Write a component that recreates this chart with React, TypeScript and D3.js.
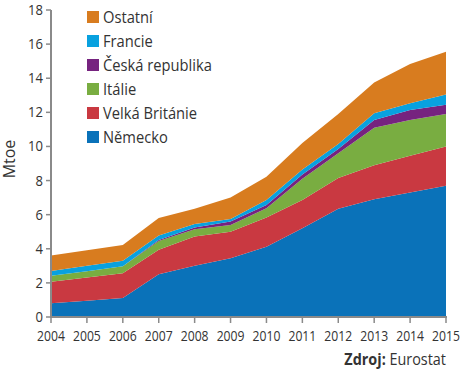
import React from "react";
import * as d3 from "d3";

const years = [2004, 2005, 2006, 2007, 2008, 2009, 2010, 2011, 2012, 2013, 2014, 2015];
const nemecko = [0.8, 0.95, 1.12, 2.5, 3.0, 3.45, 4.12, 5.2, 6.35, 6.9, 7.3, 7.7];
const velkaBritanie = [1.27, 1.37, 1.45, 1.45, 1.72, 1.55, 1.72, 1.66, 1.8, 2.0, 2.15, 2.3];
const italie = [0.35, 0.36, 0.4, 0.5, 0.43, 0.4, 0.53, 1.24, 1.45, 2.2, 2.1, 1.9];
const ceskaRepublika = [0, 0, 0, 0.07, 0.1, 0.2, 0.2, 0.25, 0.25, 0.45, 0.58, 0.55];
const francie = [0.28, 0.32, 0.33, 0.26, 0.2, 0.15, 0.29, 0.3, 0.3, 0.4, 0.4, 0.6];
const ostatni = [0.9, 0.92, 0.92, 1.02, 0.9, 1.25, 1.36, 1.55, 1.75, 1.8, 2.3, 2.5];

const seriesNames = ["Německo", "Velká Británie", "Itálie", "Česká republika", "Francie", "Ostatní"];
const seriesValues = [nemecko, velkaBritanie, italie, ceskaRepublika, francie, ostatni];
const colors = ["#0a72b9", "#c93941", "#79ad41", "#76237f", "#08a1df", "#d87c1f"];
const yTicks = [0, 2, 4, 6, 8, 10, 12, 14, 16, 18];

const FONT = "'Open Sans', sans-serif";

function SText({ x, y, sx = 0.87, children, ...rest }: any) {
  return (
    <g transform={`translate(${x},${y}) scale(${sx},1)`}>
      <text x={0} y={0} {...rest}>
        {children}
      </text>
    </g>
  );
}

export default function App() {
  const W = 462, H = 373;
  const x = d3.scaleLinear().domain([2004, 2015]).range([51, 446]);
  const y = d3.scaleLinear().domain([0, 18]).range([317, 10]);

  const table = years.map((yr, i) => {
    const row: any = { year: yr };
    seriesNames.forEach((n, k) => (row[n] = seriesValues[k][i]));
    return row;
  });
  const stack = d3.stack<any>().keys(seriesNames)(table);
  const area = d3
    .area<any>()
    .x((d) => x(d.data.year))
    .y0((d) => y(d[0]))
    .y1((d) => y(d[1]));

  const legendOrder = [...seriesNames].reverse();

  return (
    <svg width={W} height={H} style={{ position: "absolute", left: 0, top: 0 }} fontFamily={FONT}>
      {stack.map((s, k) => (
        <path key={k} d={area(s) || ""} fill={colors[k]} />
      ))}
      <line x1={51} x2={51} y1={y(18)} y2={y(0) + 1} stroke="#8a8a8a" strokeWidth={2} />
      <line x1={50} x2={447} y1={y(0)} y2={y(0)} stroke="#8a8a8a" strokeWidth={2} />
      {yTicks.map((t) => (
        <g key={t}>
          <line x1={46} x2={51} y1={y(t)} y2={y(t)} stroke="#8a8a8a" strokeWidth={1.5} />
          <SText x={43} y={y(t) + 5} textAnchor="end" fontSize={15} fill="#333">
            {t}
          </SText>
        </g>
      ))}
      {years.map((yr) => (
        <g key={yr}>
          <line x1={x(yr)} x2={x(yr)} y1={y(0)} y2={y(0) + 6} stroke="#8a8a8a" strokeWidth={1.5} />
          <SText x={x(yr)} y={341} textAnchor="middle" fontSize={14} fill="#333">
            {yr}
          </SText>
        </g>
      ))}
      <text transform={`translate(15,159) rotate(-90)`} textAnchor="middle" fontSize={16} fill="#333">
        Mtoe
      </text>
      {legendOrder.map((n, i) => {
        const k = seriesNames.indexOf(n);
        const cy = 17 + i * 24;
        return (
          <g key={n}>
            <rect x={87} y={cy - 6} width={12} height={12} fill={colors[k]} />
            <SText x={103} y={cy + 6} sx={0.92} fontSize={16} fill="#333">
              {n}
            </SText>
          </g>
        );
      })}
      <SText x={446} y={365} sx={0.9} textAnchor="end" fontSize={16} fill="#333">
        <tspan fontWeight="bold">Zdroj:</tspan> Eurostat
      </SText>
    </svg>
  );
}
